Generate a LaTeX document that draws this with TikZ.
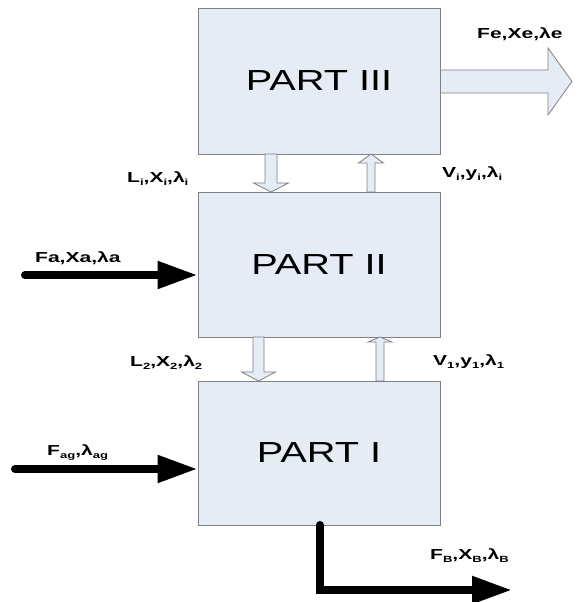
\documentclass[tikz,border=0pt]{standalone}
\usepackage{fontspec}
\usetikzlibrary{arrows.meta}
\newfontfamily\partfont[FakeStretch=1.37]{Liberation Sans}
\newfontfamily\lblfont[FakeStretch=1.45]{Liberation Sans}
\definecolor{boxfill}{RGB}{230,236,246}
\definecolor{boxline}{RGB}{128,128,128}
% subscript used in the stream labels
\newcommand\sbs[1]{\raisebox{-0.35ex}{\fontsize{9}{9}\selectfont #1}}
% hollow block arrows between the parts: x, y-start, y-end, shaft half width, head half width, head length
\newcommand\flowdown[6]{%
  \draw[flowarrow] (#1-#4,#2) -- (#1+#4,#2) -- (#1+#4,#3+#6) -- (#1+#5,#3+#6)
    -- (#1,#3) -- (#1-#5,#3+#6) -- (#1-#4,#3+#6) -- cycle;}
\newcommand\flowup[6]{%
  \draw[flowarrow] (#1-#4,#2) -- (#1+#4,#2) -- (#1+#4,#3-#6) -- (#1+#5,#3-#6)
    -- (#1,#3) -- (#1-#5,#3-#6) -- (#1-#4,#3-#6) -- cycle;}
\tikzset{
  part/.style={draw=boxline, fill=boxfill, line width=0.9pt, minimum width=242pt,
    inner sep=0pt, font=\partfont\fontsize{29}{29}\selectfont},
  flowarrow/.style={draw=boxline, fill=boxfill, line width=0.8pt, line join=miter},
  feed/.style={line width=8pt, line cap=round, -{Triangle[length=40pt,width=26pt]}},
  lbl/.style={inner sep=0pt, font=\lblfont\bfseries\fontsize{14.5}{14.5}\selectfont}
}
\begin{document}
\begin{tikzpicture}[x=1pt,y=1pt]
\useasboundingbox (0,0) rectangle (578,602);
% the three parts
\node[part, minimum height=146pt] (p3) at (319,521) {PART III};
\node[part, minimum height=145pt] (p2) at (319,337.5) {PART II};
\node[part, minimum height=144pt] (p1) at (319,149) {PART I};
% exchanges between the parts
\flowdown{271}{448}{410}{6}{17.5}{9}
\flowup{371}{410}{448}{4}{12.5}{9}
\flowdown{258.5}{265}{221}{5.5}{17}{9}
\flowup{380}{221}{265}{4}{12}{5}
% product stream leaving part III
\draw[flowarrow] (p3.east |- 0,532) -- (548,532) -- (548,554) -- (572,520.5)
  -- (548,487) -- (548,509) -- (p3.east |- 0,509) -- cycle;
% feeds and bottom product
\coordinate (fa) at (25,327);
\coordinate (fag) at (15,133);
\coordinate (fbtop) at (320,77);
\coordinate (fbcorner) at (320,12);
\coordinate (fbend) at (512,12);
\draw[feed] (fa) -- (fa -| p2.west);
\draw[feed] (fag) -- (fag -| p1.west);
\draw[feed, line join=miter] (fbtop) -- (fbcorner) -- (fbend);
% stream labels
\node[lbl, anchor=base west] (lfe) at (477,563) {Fe,Xe,λe};
\node[lbl, anchor=base west] (lvi) at (442,424) {V\sbs{i},y\sbs{i},λ\sbs{i}};
\node[lbl, anchor=base west] (lli) at (127,419) {L\sbs{i},X\sbs{i},λ\sbs{i}};
\node[lbl, anchor=base west] (lfa) at (35,339) {Fa,Xa,λa};
\node[lbl, anchor=base west] (ll2) at (130,235) {L\sbs{2},X\sbs{2},λ\sbs{2}};
\node[lbl, anchor=base west] (lv1) at (433,236) {V\sbs{1},y\sbs{1},λ\sbs{1}};
\node[lbl, anchor=base west] (lfag) at (47,146) {F\sbs{ag},λ\sbs{ag}};
\node[lbl, anchor=base west] (lfb) at (430,42) {F\sbs{B},X\sbs{B},λ\sbs{B}};
\end{tikzpicture}
\end{document}
